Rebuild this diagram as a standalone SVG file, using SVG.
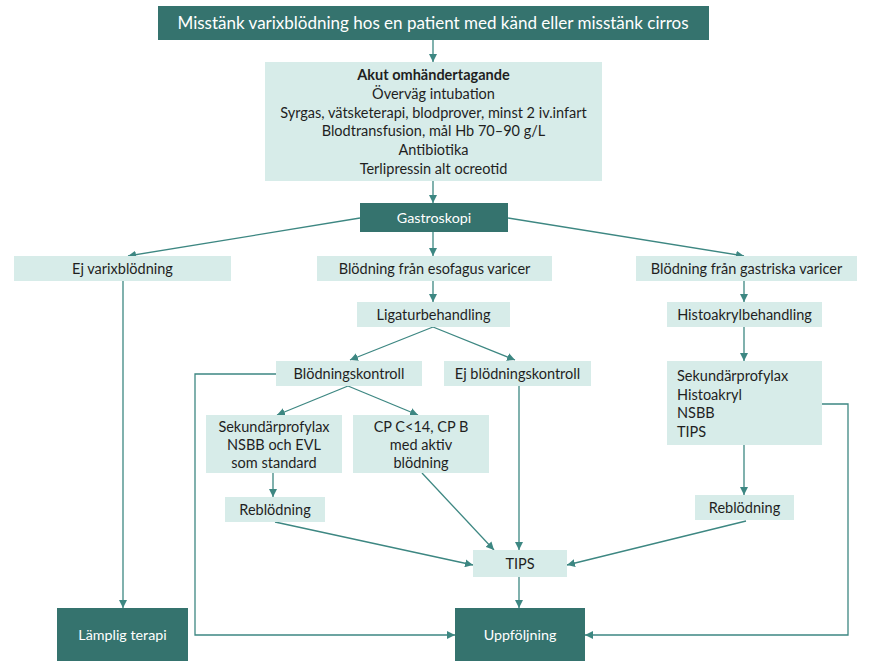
<svg xmlns="http://www.w3.org/2000/svg" width="887" height="667" viewBox="0 0 887 667">
<defs>
<style>
.dark{fill:#35736E;}
.light{fill:#D7ECE9;}
.t{font-family:Lato,"Liberation Sans",sans-serif;font-size:14.5px;fill:#1f1f1f;text-anchor:middle;}
.l{font-family:Lato,"Liberation Sans",sans-serif;font-size:14.5px;fill:#1f1f1f;text-anchor:start;}
.w{font-family:Lato,"Liberation Sans",sans-serif;font-size:14.3px;fill:#ffffff;text-anchor:middle;}
.c{fill:none;stroke:#3D8782;stroke-width:1.3;}
</style>
<marker id="ah" viewBox="0 0 10 10" refX="10" refY="5" markerWidth="8" markerHeight="8" markerUnits="userSpaceOnUse" orient="auto">
<path d="M0,0 L10,5 L0,10 z" fill="#3D8782"/>
</marker>
</defs>
<rect width="887" height="667" fill="#ffffff"/>
<g id="connectors">
<path class="c" d="M433,40 V62" marker-end="url(#ah)"/>
<path class="c" d="M433,181 V203" marker-end="url(#ah)"/>
<path class="c" d="M360,218 L128,256" marker-end="url(#ah)"/>
<path class="c" d="M433,232 V256" marker-end="url(#ah)"/>
<path class="c" d="M508,218 L744,256" marker-end="url(#ah)"/>
<path class="c" d="M123,281 V608" marker-end="url(#ah)"/>
<path class="c" d="M433,281 V302" marker-end="url(#ah)"/>
<path class="c" d="M433,327 L350,360" marker-end="url(#ah)"/>
<path class="c" d="M433,327 L515,360" marker-end="url(#ah)"/>
<path class="c" d="M348,386 L277,415" marker-end="url(#ah)"/>
<path class="c" d="M348,386 L418,415" marker-end="url(#ah)"/>
<path class="c" d="M276,374 H195 V635 H455" marker-end="url(#ah)"/>
<path class="c" d="M519,386 V550" marker-end="url(#ah)"/>
<path class="c" d="M273,473 V497" marker-end="url(#ah)"/>
<path class="c" d="M422,473 L494,550" marker-end="url(#ah)"/>
<path class="c" d="M275,522 L473,565" marker-end="url(#ah)"/>
<path class="c" d="M746,521 L567,565" marker-end="url(#ah)"/>
<path class="c" d="M519,577 V608" marker-end="url(#ah)"/>
<path class="c" d="M744,281 V302" marker-end="url(#ah)"/>
<path class="c" d="M744,327 V361" marker-end="url(#ah)"/>
<path class="c" d="M744,445 V495" marker-end="url(#ah)"/>
<path class="c" d="M822,404 H848 V635 H585" marker-end="url(#ah)"/>
</g>
<g id="n-start">
<rect class="dark" x="158" y="6" width="551" height="34"/>
<text class="w" x="433" y="29" style="font-size:17px">Misstänk varixblödning hos en patient med känd eller misstänk cirros</text>
</g>
<g id="n-akut">
<rect class="light" x="265" y="62" width="337" height="119"/>
<text class="t" x="433.5" y="80" font-weight="bold">Akut omhändertagande</text>
<text class="t" x="433.5" y="99">Överväg intubation</text>
<text class="t" x="433.5" y="118">Syrgas, vätsketerapi, blodprover, minst 2 iv.infart</text>
<text class="t" x="433.5" y="136">Blodtransfusion, mål Hb 70–90 g/L</text>
<text class="t" x="433.5" y="155">Antibiotika</text>
<text class="t" x="433.5" y="174">Terlipressin alt ocreotid</text>
</g>
<g id="n-gastro">
<rect class="dark" x="360" y="203" width="148" height="29"/>
<text class="w" x="434" y="222.5">Gastroskopi</text>
</g>
<g id="n-ejvarix">
<rect class="light" x="14" y="256" width="217" height="25"/>
<text class="t" x="122.5" y="273.5">Ej varixblödning</text>
</g>
<g id="n-esofagus">
<rect class="light" x="317" y="256" width="235" height="25"/>
<text class="t" x="434.5" y="273.5">Blödning från esofagus varicer</text>
</g>
<g id="n-gastriska">
<rect class="light" x="636" y="256" width="221" height="25"/>
<text class="t" x="746.5" y="273.5">Blödning från gastriska varicer</text>
</g>
<g id="n-ligatur">
<rect class="light" x="357" y="302" width="153" height="25"/>
<text class="t" x="433.5" y="319.5">Ligaturbehandling</text>
</g>
<g id="n-blkontroll">
<rect class="light" x="276" y="361" width="146" height="25"/>
<text class="t" x="349" y="378.5">Blödningskontroll</text>
</g>
<g id="n-ejblkontroll">
<rect class="light" x="444" y="361" width="147" height="25"/>
<text class="t" x="517.5" y="378.5">Ej blödningskontroll</text>
</g>
<g id="n-sekprof">
<rect class="light" x="206" y="415" width="136" height="58"/>
<text class="t" x="274" y="432">Sekundärprofylax</text>
<text class="t" x="274" y="450">NSBB och EVL</text>
<text class="t" x="274" y="468">som standard</text>
</g>
<g id="n-cp">
<rect class="light" x="353" y="415" width="136" height="58"/>
<text class="t" x="421" y="432">CP C&lt;14, CP B</text>
<text class="t" x="421" y="450">med aktiv</text>
<text class="t" x="421" y="468">blödning</text>
</g>
<g id="n-rebl1">
<rect class="light" x="225" y="497" width="100" height="25"/>
<text class="t" x="275" y="514.5">Reblödning</text>
</g>
<g id="n-histo">
<rect class="light" x="667" y="302" width="155" height="25"/>
<text class="t" x="744.5" y="319.5">Histoakrylbehandling</text>
</g>
<g id="n-sekprof2">
<rect class="light" x="667" y="361" width="155" height="84"/>
<text class="l" x="677" y="381">Sekundärprofylax</text>
<text class="l" x="677" y="400">Histoakryl</text>
<text class="l" x="677" y="418">NSBB</text>
<text class="l" x="677" y="437">TIPS</text>
</g>
<g id="n-rebl2">
<rect class="light" x="695" y="495" width="99" height="25"/>
<text class="t" x="744.5" y="512.5">Reblödning</text>
</g>
<g id="n-tips">
<rect class="light" x="473" y="550" width="94" height="27"/>
<text class="t" x="520" y="568.5">TIPS</text>
</g>
<g id="n-lamplig">
<rect class="dark" x="57" y="608" width="131" height="53"/>
<text class="w" x="122.5" y="639.5">Lämplig terapi</text>
</g>
<g id="n-uppf">
<rect class="dark" x="455" y="608" width="130" height="53"/>
<text class="w" x="520" y="639.5">Uppföljning</text>
</g>
</svg>
